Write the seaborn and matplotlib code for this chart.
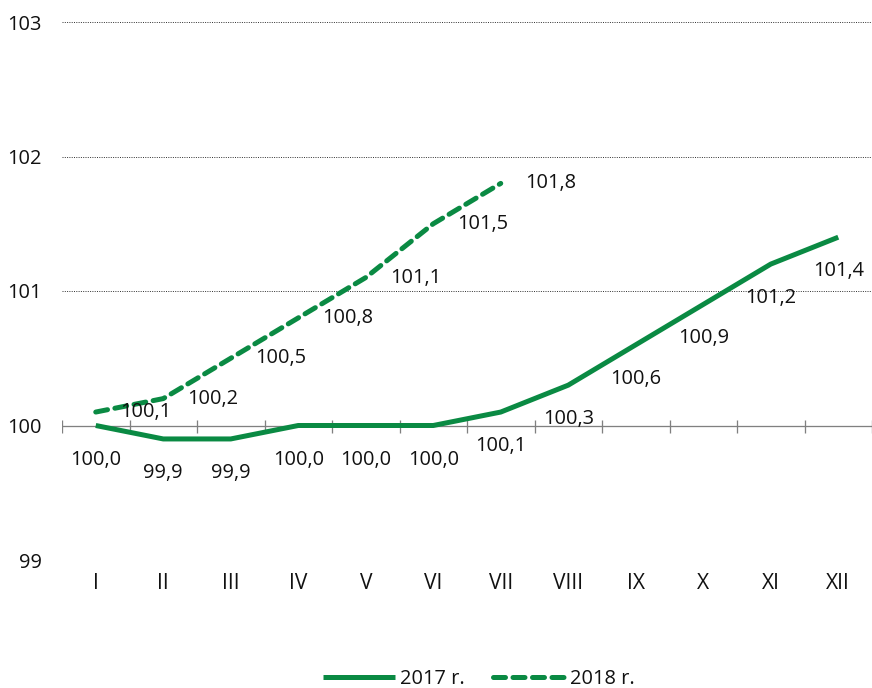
import pandas as pd
import numpy as np
import seaborn as sns
import matplotlib.pyplot as plt
from matplotlib.lines import Line2D

months = ["I", "II", "III", "IV", "V", "VI", "VII", "VIII", "IX", "X", "XI", "XII"]
v2017 = [100.0, 99.9, 99.9, 100.0, 100.0, 100.0, 100.1, 100.3, 100.6, 100.9, 101.2, 101.4]
v2018 = [100.1, 100.2, 100.5, 100.8, 101.1, 101.5, 101.8]
yticks = [99, 100, 101, 102, 103]

green = "#0a8a43"

sns.set_style("white")
plt.rcParams['font.family'] = ['Open Sans', 'DejaVu Sans']

df = pd.concat([
    pd.DataFrame({"month": months, "value": v2017, "year": "2017 r."}),
    pd.DataFrame({"month": months[:len(v2018)], "value": v2018, "year": "2018 r."}),
])

fig = plt.figure(figsize=(872/72, 688/72), dpi=72)
ax = fig.add_axes([62/872, 128/688, 810/872, 538/688])

sns.lineplot(data=df, x="month", y="value", style="year", color=green, lw=5,
             dashes={"2017 r.": "", "2018 r.": (2.4, 1.5)}, legend=False, ax=ax, zorder=5)
for ln in ax.lines:
    ln.set_solid_capstyle("butt")
    ln.set_dash_capstyle("round")

ax.set_xlim(-0.5, len(months) - 0.5)
ax.set_ylim(99, 103)
ax.set_yticks(yticks)
ax.set_yticklabels([str(t) for t in yticks], fontsize=20, color="#111111")
ax.set_xticks(range(len(months)))
ax.set_xticklabels(months, fontsize=21, color="#111111",
                   family=["Liberation Sans Narrow", "Open Sans", "DejaVu Sans"])
ax.tick_params(axis="y", length=0, pad=20)
ax.tick_params(axis="x", length=0, pad=13)
ax.set_xlabel("")
ax.set_ylabel("")
for s in ax.spines.values():
    s.set_visible(False)

for t in yticks:
    if t != 100:
        ax.axhline(t, color="#3a3a3a", lw=1, ls=(0, (1, 1.3)), zorder=1)

# category axis at 100
bounds = np.arange(len(months) + 1) - 0.5
ax.axhline(100, color="#808080", lw=1.3, zorder=2)
ax.plot(bounds, [100] * len(bounds), ls="none", marker="|", ms=13, mew=1.3, color="#808080", zorder=2)

for i, v in enumerate(v2017):
    ax.annotate(f"{v:.1f}".replace(".", ","), (i, v), xytext=(0, -34), textcoords="offset points",
                ha="center", va="center", fontsize=20, color="#111111", zorder=6)
for i, v in enumerate(v2018):
    ax.annotate(f"{v:.1f}".replace(".", ","), (i, v), xytext=(24, 0), textcoords="offset points",
                ha="left", va="center", fontsize=20, color="#111111", zorder=6)

handles = [Line2D([], [], color=green, lw=5, solid_capstyle="butt"),
           Line2D([], [], color=green, lw=5, ls=(0, (2.4, 1.5)), dash_capstyle="round")]
leg = fig.legend(handles, ["2017 r.", "2018 r."], loc="center", bbox_to_anchor=(479/872, 1 - 679/688),
                 ncol=2, frameon=False, fontsize=20, handlelength=3.6, handletextpad=0.25, columnspacing=1.4)
for txt in leg.get_texts():
    txt.set_color("#111111")

fig.savefig("out.png", dpi=72)
